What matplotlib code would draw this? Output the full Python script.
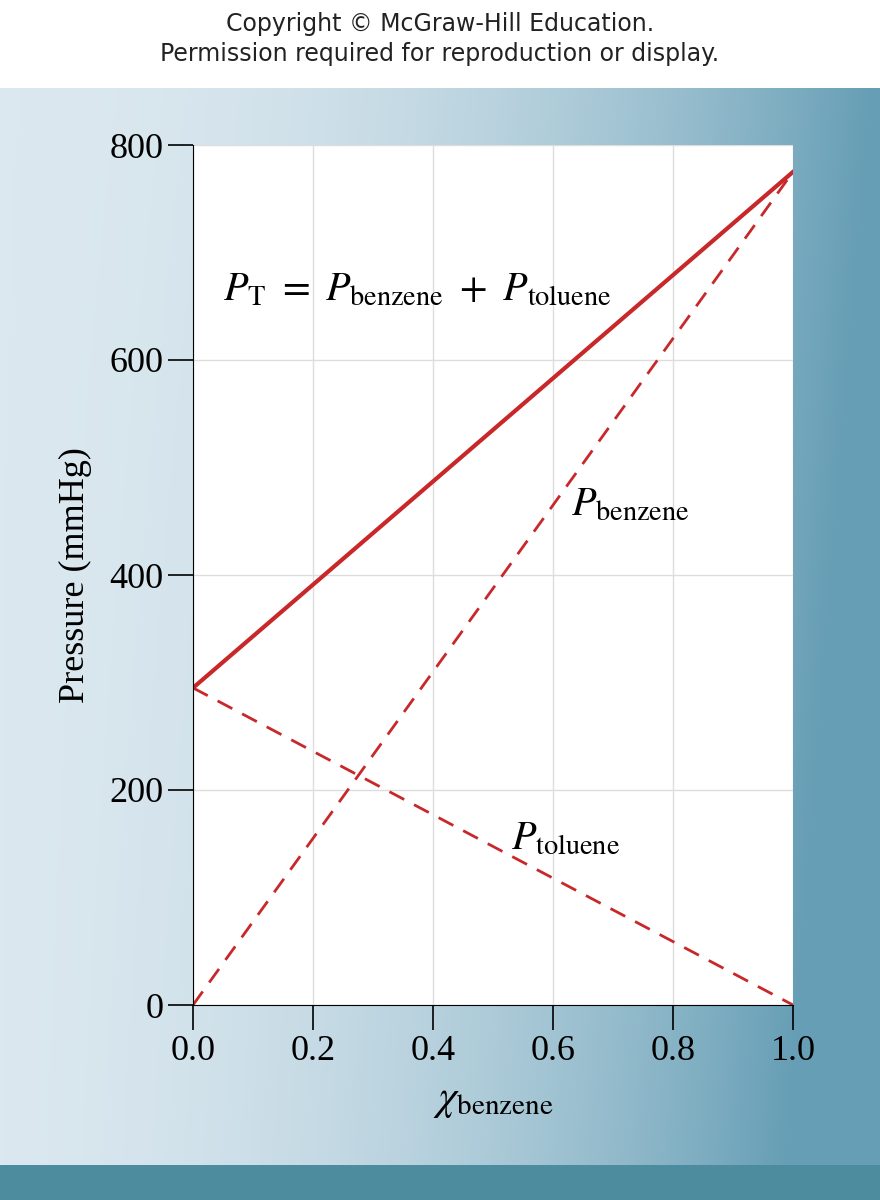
import numpy as np
import matplotlib
matplotlib.use("Agg")
import matplotlib.pyplot as plt

x_frac = [0.0, 1.0]
p_benzene = [0, 775]
p_toluene = [295, 0]
p_total = [295, 775]
xticks = [0.0, 0.2, 0.4, 0.6, 0.8, 1.0]
yticks = [0, 200, 400, 600, 800]

plt.rcParams['mathtext.fontset'] = 'stix'
plt.rcParams['font.family'] = 'Liberation Serif'

fig = plt.figure(figsize=(8.8, 12), dpi=100)
bg = fig.add_axes([0, 0, 1, 1], zorder=-10)
bg.set_axis_off()
W, H = 880, 1200
xx = np.linspace(0, 1, W)[None, :]
yy = np.linspace(0, 1, H)[:, None]
t = np.clip(xx**2.2 + 0.25*yy*xx, 0, 1)
c0 = np.array([0.86, 0.91, 0.94]); c1 = np.array([0.40, 0.62, 0.71])
img = c0[None, None, :]*(1-t[..., None]) + c1[None, None, :]*t[..., None]
img[:88] = 1.0
img[1165:] = np.array([0.30, 0.55, 0.62])
bg.imshow(img, extent=[0, 1, 0, 1], aspect='auto')
bg.set_xlim(0, 1); bg.set_ylim(0, 1)
fig.text(0.5, 0.99, "Copyright © McGraw-Hill Education.", ha='center', va='top',
         fontsize=17, family='DejaVu Sans', color='#222222')
fig.text(0.5, 0.965, "Permission required for reproduction or display.", ha='center', va='top',
         fontsize=17, family='DejaVu Sans', color='#222222')

ax = fig.add_axes([193/880, 195/1200, 600/880, 860/1200])
ax.set_facecolor('white')
red = '#c8282a'
ax.plot(x_frac, p_total, color=red, lw=3)
ax.plot(x_frac, p_benzene, color=red, lw=2, ls=(0, (6, 4)))
ax.plot(x_frac, p_toluene, color=red, lw=2, ls=(0, (6, 4)))
ax.set_xlim(0, 1); ax.set_ylim(0, 800)
ax.set_xticks(xticks); ax.set_yticks(yticks)
ax.set_xticklabels([f"{v:.1f}" for v in xticks])
ax.grid(True, color='#dddddd', lw=1)
for s in ['top', 'right']:
    ax.spines[s].set_visible(False)
ax.tick_params(labelsize=26, length=18, width=1.2, direction='out')
ax.set_ylabel("Pressure (mmHg)", fontsize=26, labelpad=12)
ax.set_xlabel(r"$\chi_{\mathrm{benzene}}$", fontsize=30, labelpad=10)
ax.text(0.05, 655, r"$P_{\mathrm{T}}\ =\ P_{\mathrm{benzene}}\ +\ P_{\mathrm{toluene}}$", fontsize=29)
ax.text(0.63, 455, r"$P_{\mathrm{benzene}}$", fontsize=29)
ax.text(0.53, 145, r"$P_{\mathrm{toluene}}$", fontsize=29)
fig.savefig("out.png", dpi=100)
